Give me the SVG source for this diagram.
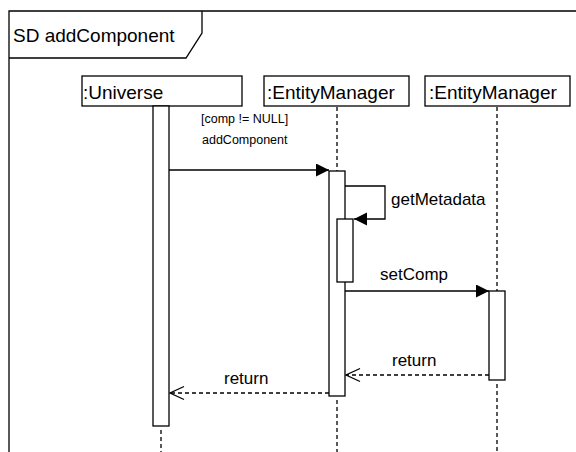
<svg xmlns="http://www.w3.org/2000/svg" width="576" height="452" viewBox="0 0 576 452">
<defs>
<style>
.ln{fill:none;stroke:#000;stroke-width:1.3}
.box{fill:#fff;stroke:#000;stroke-width:1.3}
.life{fill:none;stroke:#000;stroke-width:1.3;stroke-dasharray:4,3}
.dash{fill:none;stroke:#000;stroke-width:1.3;stroke-dasharray:4,3}
.t{font-family:"Liberation Sans",Arial,sans-serif;fill:#000}
.big{font-size:19px}
.mid{font-size:17px}
.sm{font-size:12.5px}
</style>
<marker id="fill" markerWidth="14" markerHeight="14" refX="13" refY="6.5" orient="auto" markerUnits="userSpaceOnUse">
<path d="M0,0 L13,6.5 L0,13 Z" fill="#000"/>
</marker>
<marker id="open" markerWidth="16" markerHeight="16" refX="15" refY="7.5" orient="auto" markerUnits="userSpaceOnUse">
<path d="M1,1 L15,7.5 L1,14" fill="none" stroke="#000" stroke-width="1.3"/>
</marker>
</defs>
<rect width="576" height="452" fill="#fff"/>
<g id="frame">
<path class="ln" d="M9,460 L9,11 L580,11"/>
<path class="ln" d="M9,58 L186,58 L202,33 L202,11"/>
<text class="t big" x="13" y="42">SD addComponent</text>
</g>
<g id="universe">
<rect class="box" x="82" y="76" width="160" height="30"/>
<text class="t big" x="83" y="99">:Universe</text>
<rect class="box" x="153" y="106" width="16" height="320"/>
<line class="life" x1="161" y1="430" x2="161" y2="452"/>
</g>
<g id="entityManager1">
<rect class="box" x="264" y="76" width="145" height="30"/>
<text class="t big" x="267" y="99">:EntityManager</text>
<line class="life" x1="337" y1="107" x2="337" y2="171"/>
<rect class="box" x="329" y="171" width="16" height="225"/>
<rect class="box" x="337" y="219" width="16" height="63"/>
<line class="life" x1="337" y1="400" x2="337" y2="452"/>
</g>
<g id="entityManager2">
<rect class="box" x="425" y="76" width="145" height="30"/>
<text class="t big" x="429" y="99">:EntityManager</text>
<line class="life" x1="497" y1="107" x2="497" y2="291"/>
<rect class="box" x="489" y="291" width="16" height="89"/>
<line class="life" x1="497" y1="384" x2="497" y2="452"/>
</g>
<g id="connectors">
<line class="ln" x1="169" y1="170" x2="329" y2="170" marker-end="url(#fill)"/>
<text class="t sm" x="201" y="123">[comp != NULL]</text>
<text class="t sm" x="202" y="144">addComponent</text>
<path class="ln" d="M345,186 L385,186 L385,219 L354,219" marker-end="url(#fill)"/>
<text class="t mid" x="391" y="205">getMetadata</text>
<line class="ln" x1="345" y1="291" x2="489" y2="291" marker-end="url(#fill)"/>
<text class="t mid" x="380" y="280">setComp</text>
<line class="dash" x1="489" y1="375" x2="346" y2="375" marker-end="url(#open)"/>
<text class="t mid" x="392" y="366">return</text>
<line class="dash" x1="329" y1="393" x2="170" y2="393" marker-end="url(#open)"/>
<text class="t mid" x="224" y="384">return</text>
</g>
</svg>
